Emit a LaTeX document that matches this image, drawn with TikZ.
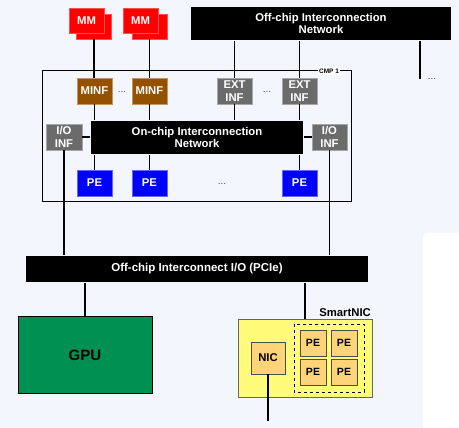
\documentclass[tikz,border=0pt]{standalone}
\usepackage{fontspec}
\setmainfont{Liberation Sans}
\usetikzlibrary{backgrounds}
\definecolor{bgcol}{HTML}{F3F6FD}
\definecolor{mocha}{HTML}{945200}
\definecolor{infgray}{HTML}{6B6B6B}
\definecolor{moss}{HTML}{009051}
\definecolor{banana}{HTML}{FFFC79}
\definecolor{cantaloupe}{HTML}{FFD479}
\begin{document}
\begin{tikzpicture}[x=1pt, y=-1pt, line width=1.1pt]
\tikzstyle{every node}=[inner sep=0pt, align=center, font=\fontsize{11.3}{12.5}\selectfont\bfseries];
\tikzstyle{mmbox}=[fill=red, draw=red!70!white, line width=0.8pt, text=white, minimum width=35pt, minimum height=25pt];
\tikzstyle{minfbox}=[fill=mocha, draw=mocha!60!white, line width=0.8pt, text=white, minimum width=35pt, minimum height=26pt];
\tikzstyle{infbox}=[fill=infgray, draw=infgray!60!white, line width=0.8pt, text=white, minimum width=35pt, minimum height=26pt];
\tikzstyle{pebox}=[fill=blue, draw=blue!60!white, line width=0.8pt, text=white, minimum width=35pt, minimum height=26pt];
\tikzstyle{netbox}=[fill=black, text=white];
\tikzstyle{nicbox}=[fill=cantaloupe, draw=black!70, line width=0.8pt, text=black, font=\fontsize{10.5}{12}\selectfont\bfseries];
\tikzstyle{dotsnode}=[font=\fontsize{10}{12}\selectfont, text=black!70];
\useasboundingbox (0,0) rectangle (459,428);
\fill[bgcol] (0,0) rectangle (459,428);
\fill[white, rounded corners=4pt] (423,233) rectangle (470,440);
\node[mmbox] (mm1b) at (94,26.5) {};
\node[mmbox] (mm1) at (86.5,20.5) {MM};
\node[mmbox] (mm2b) at (149.5,26.5) {};
\node[mmbox] (mm2) at (140.5,20.5) {MM};
\node[netbox, minimum width=260pt, minimum height=33pt] (offnet) at (321,23.5) {Off-chip Interconnection\\Network};
\draw[line width=1pt] (42,71) rectangle (351,202);
\node[fill=white, inner sep=1.5pt, font=\fontsize{6.5}{7}\selectfont\bfseries] (cmp) at (329,71) {CMP 1};
\node[minfbox] (minf1) at (94.5,91) {MINF};
\node[minfbox] (minf2) at (149.5,91) {MINF};
\node[infbox] (ext1) at (234.5,91) {EXT\\INF};
\node[infbox] (ext2) at (299.5,91) {EXT\\INF};
\node[netbox, minimum width=212pt, minimum height=33pt] (onnet) at (197,137.5) {On-chip Interconnection\\Network};
\node[infbox, minimum width=36pt] (io1) at (64,137) {I/O\\INF};
\node[infbox] (io2) at (329.5,137) {I/O\\INF};
\node[pebox] (pe1) at (94.5,183) {PE};
\node[pebox] (pe2) at (149.5,183) {PE};
\node[pebox] (pe3) at (299.5,183) {PE};
\node[dotsnode] (dm) at (122,92) {...};
\node[dotsnode] (de) at (267,92) {...};
\node[dotsnode] (dp) at (222,184) {...};
\node[dotsnode] (dn) at (432,79) {...};
\coordinate (netend) at (420,79);
\node[netbox, minimum width=342pt, minimum height=26pt, font=\fontsize{11.5}{13}\selectfont\bfseries] (pcie) at (197,269) {Off-chip Interconnect I/O (PCIe)};
\node[fill=moss, draw=black, line width=1pt, minimum width=134pt, minimum height=77pt, font=\fontsize{15}{17}\selectfont\bfseries] (gpu) at (85,355.5) {GPU};
\node[fill=banana, draw=black!60, line width=0.8pt, minimum width=134pt, minimum height=78pt] (snic) at (305,358) {};
\node[anchor=south east, inner sep=1pt, font=\fontsize{11.3}{12}\selectfont\bfseries] (snlabel) at (snic.north east) {SmartNIC};
\node[nicbox, minimum width=34pt, minimum height=32pt, font=\fontsize{11.3}{12}\selectfont\bfseries] (nic) at (268,358) {NIC};
\draw[dashed, line width=0.8pt] (294,324) rectangle (364,392);
\node[nicbox, minimum size=26pt] (spe1) at (313,343) {PE};
\node[nicbox, minimum size=26pt] (spe2) at (344,343) {PE};
\node[nicbox, minimum size=26pt] (spe3) at (313,372) {PE};
\node[nicbox, minimum size=26pt] (spe4) at (344,372) {PE};
\coordinate (nicend) at (268,421);
\draw (mm1b.south) -- (mm1b.south |- minf1.north)
(mm2b.south) -- (mm2b.south |- minf2.north)
(ext1.north) -- (ext1.north |- offnet.south)
(ext2.north) -- (ext2.north |- offnet.south)
(netend |- offnet.south) -- (netend)
(minf1.south) -- (minf1.south |- onnet.north)
(minf2.south) -- (minf2.south |- onnet.north)
(ext1.south) -- (ext1.south |- onnet.north)
(ext2.south) -- (ext2.south |- onnet.north)
(io1.east) -- (io1.east -| onnet.west)
(io2.west) -- (io2.west -| onnet.east)
(pe1.north) -- (pe1.north |- onnet.south)
(pe2.north) -- (pe2.north |- onnet.south)
(pe3.north) -- (pe3.north |- onnet.south)
(io1.south) -- (io1.south |- pcie.north)
(io2.south) -- (io2.south |- pcie.north)
(gpu.north) -- (gpu.north |- pcie.south)
(snic.north) -- (snic.north |- pcie.south)
(nic.south) -- (nicend);
\end{tikzpicture}
\end{document}
